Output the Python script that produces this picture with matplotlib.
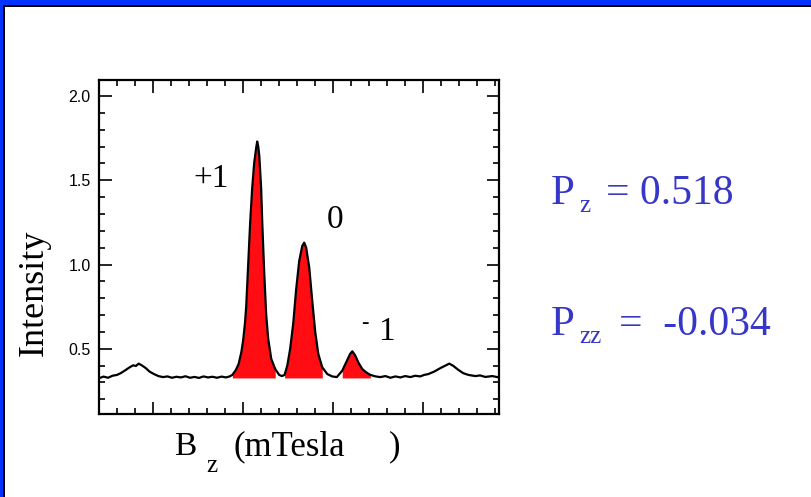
import numpy as np
import matplotlib.pyplot as plt
from matplotlib.patches import Rectangle
from matplotlib.ticker import MultipleLocator, FixedLocator

# ---------- data ----------
bz = [0.00, 0.25, 0.50, 0.75, 1.00, 1.20, 1.45, 1.70, 1.90, 2.05, 2.20, 2.40, 2.60, 2.80,
      3.05, 3.30, 3.55, 3.80, 4.05, 4.30, 4.55, 4.80, 5.05, 5.30, 5.55, 5.80, 6.05, 6.30,
      6.55, 6.80, 7.05, 7.25, 7.40, 7.60, 7.75, 7.90, 8.00, 8.10, 8.17, 8.28, 8.39, 8.50,
      8.61, 8.72, 8.78, 8.84, 8.90, 9.00, 9.06, 9.17, 9.28, 9.39, 9.56, 9.78, 10.00, 10.15,
      10.30, 10.45, 10.61, 10.78, 10.94, 11.11, 11.28, 11.39, 11.50, 11.67, 11.83, 12.00,
      12.17, 12.39, 12.67, 12.94, 13.20, 13.50, 13.72, 13.94, 14.06, 14.22, 14.39, 14.61,
      14.83, 15.06, 15.35, 15.61, 15.90, 16.17, 16.45, 16.72, 17.00, 17.28, 17.55, 17.83,
      18.05, 18.28, 18.61, 18.94, 19.22, 19.44, 19.67, 19.94, 20.22, 20.50, 20.89, 21.15,
      21.44, 21.83, 22.20]
intensity = [0.325, 0.335, 0.328, 0.340, 0.345, 0.355, 0.372, 0.390, 0.402, 0.398, 0.412,
             0.400, 0.385, 0.365, 0.350, 0.338, 0.332, 0.336, 0.328, 0.334, 0.330, 0.337,
             0.328, 0.333, 0.327, 0.336, 0.330, 0.334, 0.328, 0.335, 0.330, 0.336, 0.345,
             0.375, 0.410, 0.480, 0.550, 0.650, 0.750, 1.000, 1.250, 1.450, 1.600, 1.690,
             1.730, 1.700, 1.640, 1.450, 1.250, 0.950, 0.700, 0.560, 0.440, 0.380, 0.345,
             0.338, 0.345, 0.400, 0.500, 0.650, 0.850, 1.020, 1.110, 1.130, 1.100, 0.980,
             0.790, 0.600, 0.470, 0.390, 0.350, 0.336, 0.332, 0.370, 0.420, 0.470, 0.485,
             0.460, 0.420, 0.380, 0.360, 0.345, 0.336, 0.332, 0.338, 0.328, 0.336, 0.330,
             0.338, 0.332, 0.340, 0.336, 0.345, 0.350, 0.365, 0.385, 0.400, 0.412, 0.398,
             0.375, 0.355, 0.345, 0.338, 0.342, 0.333, 0.338, 0.330]

# shaded ranges of the three lines (m = +1, 0, -1)
peak_ranges = [(7.39, 9.89), (10.22, 12.56), (13.22, 15.06)]
fill_floor = 0.327

y_major = [0.5, 1.0, 1.5, 2.0]
x_major = [3, 8, 13, 18]

pz_text = "= 0.518"
pzz_text = "=  -0.034"

W, H = 811, 497
serif = "Liberation Serif"
blue_txt = "#3636c8"

fig = plt.figure(figsize=(W / 100, H / 100), dpi=100)
fig.patch.set_facecolor("white")


def ftext(px, py, s, **kw):
    """Place text using pixel coordinates of the slide (origin top-left)."""
    return fig.text(px / W, 1 - py / H, s, **kw)


# slide frame: blue strip at top and left, thin black inner line
fig.patches.append(Rectangle((0, 1 - 5 / H), 1, 5 / H, transform=fig.transFigure,
                             facecolor="#0033ff", edgecolor="none", zorder=0))
fig.patches.append(Rectangle((0, 1 - 7 / H), 1, 2 / H, transform=fig.transFigure,
                             facecolor="black", edgecolor="none", zorder=0))
fig.patches.append(Rectangle((0, 0), 3 / W, 1, transform=fig.transFigure,
                             facecolor="#0033ff", edgecolor="none", zorder=0))
fig.patches.append(Rectangle((3 / W, 0), 1.5 / W, 1 - 5 / H, transform=fig.transFigure,
                             facecolor="black", edgecolor="none", zorder=0))

ax = fig.add_axes([99 / W, 1 - 414 / H, 400 / W, 334 / H])

x = np.array(bz)
y = np.array(intensity)
for lo, hi in peak_ranges:
    m = (x >= lo) & (x <= hi)
    ax.fill_between(x, fill_floor, y, where=m, color="#ff0d12", linewidth=0, zorder=2)
ax.plot(x, y, color="black", lw=1.6, zorder=3)

ax.set_xlim(0, 22.2)
ax.set_ylim(0.113, 2.095)

ax.yaxis.set_major_locator(FixedLocator(y_major))
ax.yaxis.set_minor_locator(MultipleLocator(0.1))
ax.xaxis.set_major_locator(FixedLocator(x_major))
ax.xaxis.set_minor_locator(MultipleLocator(1))
ax.set_xticklabels([])
ax.set_yticklabels([f"{v:.1f}" for v in y_major], fontfamily="Liberation Sans", fontsize=11.5)

ax.tick_params(which="both", direction="in", top=True, right=True, width=1.2, color="black")
ax.tick_params(which="major", length=9, pad=6)
ax.tick_params(which="minor", length=4.5)
for sp in ax.spines.values():
    sp.set_linewidth(1.6)

# peak labels
ftext(193, 187, "+1", fontsize=24, family=serif, va="baseline")
ftext(327, 228, "0", fontsize=24, family=serif, va="baseline")
ftext(361, 328, "-", fontsize=16, family=serif, va="baseline")
ftext(378, 340, "1", fontsize=24, family=serif, va="baseline")

# axis titles
ftext(34, 293, "Intensity", fontsize=26, family=serif, rotation=90, ha="center", va="center")
ftext(174, 455, "B", fontsize=24, family=serif, va="baseline")
ftext(206, 472, "z", fontsize=18, family=serif, va="baseline")
ftext(234, 455, "(mTesla", fontsize=25, family=serif, va="baseline")
ftext(389, 455, ")", fontsize=25, family=serif, va="baseline")

# polarisation values
ftext(551, 204, "P", fontsize=31, family=serif, color=blue_txt, va="baseline")
ftext(579, 212, "z", fontsize=18, family=serif, color=blue_txt, va="baseline")
ftext(606, 204, pz_text, fontsize=30, family=serif, color=blue_txt, va="baseline")
ftext(551, 335, "P", fontsize=31, family=serif, color=blue_txt, va="baseline")
ftext(579, 343, "zz", fontsize=18, family=serif, color=blue_txt, va="baseline")
ftext(619, 335, pzz_text, fontsize=30, family=serif, color=blue_txt, va="baseline")

fig.savefig("out.png", dpi=100)
